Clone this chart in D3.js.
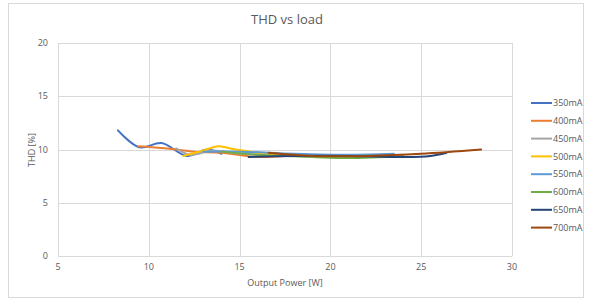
<!DOCTYPE html>
<html>
<head>
<meta charset="utf-8">
<script src="https://cdn.jsdelivr.net/npm/d3@7"></script>
<style>
  body { margin: 0; background: #fff; }
  svg text { font-family: "Open Sans", "Liberation Sans", sans-serif; fill: #595959; }
</style>
</head>
<body>
<svg id="chart" width="591" height="300"></svg>
<script>
const seriesNames = ["350mA", "400mA", "450mA", "500mA", "550mA", "600mA", "650mA", "700mA"];
const seriesColors = ["#4472C4", "#ED7D31", "#A5A5A5", "#FFC000", "#5B9BD5", "#70AD47", "#264478", "#9E480E"];

const s350 = [[8.3, 11.8], [9.5, 10.2], [10.7, 10.6], [12.1, 9.4], [13.2, 10.0], [14.0, 9.6]];
const s400 = [[9.4, 10.3], [11.0, 10.1], [12.5, 9.8], [14.0, 9.7], [16.0, 9.3], [17.5, 9.4]];
const s450 = [[11.5, 10.1], [12.3, 9.5], [13.5, 9.9], [15.0, 9.6], [17.0, 9.5], [19.0, 9.3]];
const s500 = [[11.9, 9.4], [13.0, 9.9], [13.8, 10.3], [14.8, 10.0], [16.5, 9.6], [18.5, 9.4]];
const s550 = [[13.0, 9.8], [15.0, 9.8], [18.0, 9.6], [21.0, 9.5], [23.5, 9.6]];
const s600 = [[14.0, 9.8], [16.0, 9.5], [19.0, 9.3], [21.0, 9.2], [24.0, 9.4]];
const s650 = [[15.5, 9.3], [18.0, 9.4], [21.0, 9.4], [24.0, 9.3], [25.5, 9.4], [26.4, 9.7]];
const s700 = [[16.6, 9.7], [19.0, 9.4], [22.0, 9.4], [25.0, 9.6], [28.3, 10.0]];
const seriesData = [s350, s400, s450, s500, s550, s600, s650, s700];

const xTicks = [5, 10, 15, 20, 25, 30];
const yTicks = [0, 5, 10, 15, 20];

const svg = d3.select("#chart");

svg.append("rect")
  .attr("x", 8.5).attr("y", 3.5)
  .attr("width", 575).attr("height", 294)
  .attr("fill", "#fff")
  .attr("stroke", "#d9d9d9");

const x = d3.scaleLinear().domain([5, 30]).range([58, 512]);
const y = d3.scaleLinear().domain([0, 20]).range([256, 43]);

// gridlines
svg.append("g")
  .selectAll("line")
  .data(yTicks)
  .join("line")
  .attr("x1", x(5)).attr("x2", x(30))
  .attr("y1", (d) => Math.round(y(d)) + 0.5)
  .attr("y2", (d) => Math.round(y(d)) + 0.5)
  .attr("stroke", "#d9d9d9");

svg.append("g")
  .selectAll("line")
  .data(xTicks)
  .join("line")
  .attr("y1", y(0)).attr("y2", y(20))
  .attr("x1", (d) => Math.round(x(d)) + 0.5)
  .attr("x2", (d) => Math.round(x(d)) + 0.5)
  .attr("stroke", "#d9d9d9");

// tick labels
svg.append("g")
  .selectAll("text")
  .data(yTicks)
  .join("text")
  .attr("x", 48)
  .attr("y", (d) => y(d))
  .attr("dy", "0.35em")
  .attr("text-anchor", "end")
  .attr("font-size", 9)
  .text((d) => d);

svg.append("g")
  .selectAll("text")
  .data(xTicks)
  .join("text")
  .attr("x", (d) => x(d))
  .attr("y", 270)
  .attr("text-anchor", "middle")
  .attr("font-size", 9)
  .text((d) => d);

// titles
svg.append("text")
  .attr("x", 287).attr("y", 24)
  .attr("text-anchor", "middle")
  .attr("font-size", 13)
  .text("THD vs load");

svg.append("text")
  .attr("x", 285).attr("y", 286)
  .attr("text-anchor", "middle")
  .attr("font-size", 9)
  .text("Output Power [W]");

svg.append("text")
  .attr("transform", "translate(35,150) rotate(-90)")
  .attr("text-anchor", "middle")
  .attr("font-size", 9)
  .text("THD [%]");

// lines
const line = d3.line()
  .x((d) => x(d[0]))
  .y((d) => y(d[1]))
  .curve(d3.curveCatmullRom.alpha(0.5));

svg.append("g")
  .selectAll("path")
  .data(seriesData)
  .join("path")
  .attr("d", line)
  .attr("fill", "none")
  .attr("stroke", (d, i) => seriesColors[i])
  .attr("stroke-width", 2)
  .attr("stroke-linecap", "round");

// legend
const legend = svg.append("g")
  .selectAll("g")
  .data(seriesNames)
  .join("g")
  .attr("transform", (d, i) => `translate(531,${103 + i * 17.8})`);

legend.append("line")
  .attr("x1", 0).attr("x2", 21)
  .attr("stroke", (d, i) => seriesColors[i])
  .attr("stroke-width", 2);

legend.append("text")
  .attr("x", 22)
  .attr("dy", "0.35em")
  .attr("font-size", 9)
  .text((d) => d);
</script>
</body>
</html>
